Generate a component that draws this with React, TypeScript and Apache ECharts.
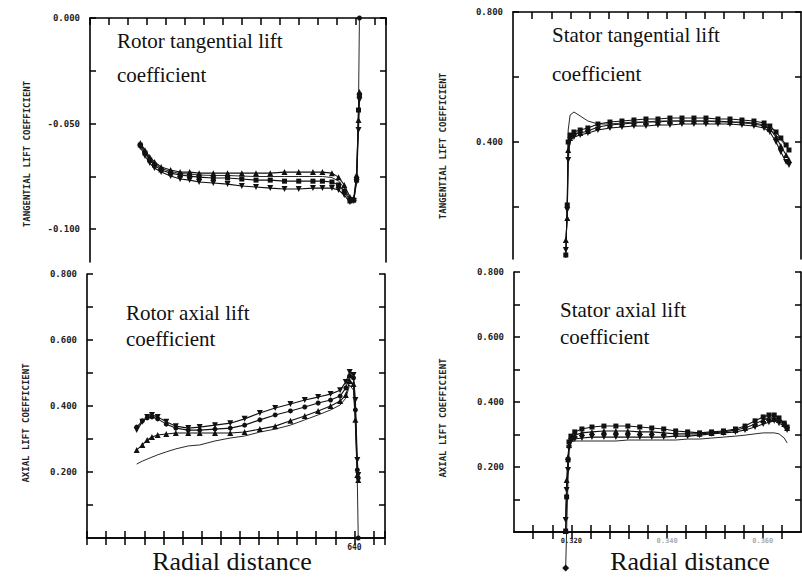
import React, { useEffect, useRef } from "react";
import * as echarts from "echarts";

// ---------- Rotor tangential lift coefficient (top-left) ----------
const rotorTanX = [413, 418, 423, 428, 435, 445, 455, 465, 475, 490, 505, 520, 535, 550, 565, 580, 595, 605, 615, 622, 628, 634, 638, 641, 643, 644];
const rotorTanA = [-0.0592, -0.0626, -0.0659, -0.0682, -0.0706, -0.0720, -0.0730, -0.0730, -0.0735, -0.0735, -0.0735, -0.0735, -0.0735, -0.0735, -0.0730, -0.0730, -0.0730, -0.0730, -0.0735, -0.0754, -0.0791, -0.0848, -0.0853, -0.0744, -0.0483, -0.0351];
const rotorTanB = [-0.0602, -0.0640, -0.0673, -0.0697, -0.0720, -0.0735, -0.0744, -0.0749, -0.0754, -0.0758, -0.0758, -0.0763, -0.0768, -0.0768, -0.0773, -0.0773, -0.0773, -0.0773, -0.0777, -0.0791, -0.0820, -0.0867, -0.0863, -0.0768, -0.0436, -0.0365];
const rotorTanC = [-0.0611, -0.0654, -0.0687, -0.0711, -0.0730, -0.0749, -0.0763, -0.0768, -0.0777, -0.0782, -0.0787, -0.0796, -0.0801, -0.0806, -0.0810, -0.0810, -0.0806, -0.0806, -0.0806, -0.0815, -0.0839, -0.0872, -0.0867, -0.0777, -0.0531, -0.0389];
const rotorTanThin = [-0.0597, -0.0633, -0.0666, -0.0690, -0.0713, -0.0727, -0.0737, -0.0739, -0.0744, -0.0746, -0.0746, -0.0749, -0.0751, -0.0751, -0.0751, -0.0751, -0.0751, -0.0751, -0.0756, -0.0772, -0.0806, -0.0858, -0.0860, -0.0760, -0.0420, 0.0];

// ---------- Stator tangential lift coefficient (top-right) ----------
const statorTanX = [0.3190, 0.3193, 0.3195, 0.3199, 0.3207, 0.3220, 0.3236, 0.3257, 0.3282, 0.3307, 0.3332, 0.3357, 0.3382, 0.3407, 0.3432, 0.3457, 0.3482, 0.3507, 0.3532, 0.3557, 0.3582, 0.3603, 0.3615, 0.3628, 0.3638, 0.3649, 0.3655];
const statorTanA = [0.0523, 0.2062, 0.4000, 0.4215, 0.4308, 0.4369, 0.4431, 0.4554, 0.4615, 0.4646, 0.4677, 0.4708, 0.4708, 0.4738, 0.4738, 0.4738, 0.4738, 0.4708, 0.4708, 0.4677, 0.4646, 0.4585, 0.4492, 0.4308, 0.4123, 0.3908, 0.3754];
const statorTanB = [0.0985, 0.1662, 0.3754, 0.4123, 0.4246, 0.4277, 0.4338, 0.4462, 0.4523, 0.4554, 0.4585, 0.4615, 0.4615, 0.4646, 0.4646, 0.4646, 0.4646, 0.4646, 0.4615, 0.4615, 0.4585, 0.4523, 0.4400, 0.4154, 0.3877, 0.3600, 0.3446];
const statorTanC = [0.0677, 0.1908, 0.3446, 0.4062, 0.4154, 0.4215, 0.4277, 0.4369, 0.4431, 0.4462, 0.4492, 0.4492, 0.4523, 0.4523, 0.4554, 0.4554, 0.4554, 0.4554, 0.4554, 0.4523, 0.4492, 0.4431, 0.4308, 0.4000, 0.3692, 0.3385, 0.3292];
const statorTanThin = [0.0431, 0.2215, 0.4369, 0.4831, 0.4923, 0.4800, 0.4646, 0.4554, 0.4554, 0.4585, 0.4615, 0.4615, 0.4646, 0.4646, 0.4646, 0.4646, 0.4646, 0.4615, 0.4615, 0.4585, 0.4554, 0.4492, 0.4369, 0.4215, 0.4062, 0.3877, 0.3754];

// ---------- Rotor axial lift coefficient (bottom-left) ----------
const rotorAxX = [412, 418, 423, 428, 434, 443, 453, 466, 478, 494, 510, 525, 541, 557, 573, 588, 602, 615, 625, 631, 635, 639, 641, 643, 644];
const rotorAxA = [0.327, 0.352, 0.367, 0.373, 0.367, 0.352, 0.339, 0.333, 0.336, 0.342, 0.348, 0.361, 0.379, 0.394, 0.406, 0.418, 0.427, 0.436, 0.448, 0.473, 0.503, 0.494, 0.418, 0.236, 0.191];
const rotorAxB = [0.336, 0.355, 0.364, 0.367, 0.361, 0.345, 0.333, 0.327, 0.327, 0.330, 0.333, 0.342, 0.358, 0.373, 0.385, 0.397, 0.409, 0.418, 0.430, 0.455, 0.491, 0.485, 0.388, 0.206, 0.182];
const rotorAxC = [0.267, 0.282, 0.297, 0.306, 0.312, 0.315, 0.318, 0.318, 0.318, 0.318, 0.318, 0.321, 0.330, 0.339, 0.355, 0.370, 0.385, 0.400, 0.415, 0.433, 0.476, 0.467, 0.358, 0.191, 0.176];
const rotorAxThin = [0.224, 0.233, 0.239, 0.245, 0.252, 0.261, 0.270, 0.279, 0.282, 0.294, 0.303, 0.309, 0.321, 0.330, 0.342, 0.358, 0.373, 0.388, 0.403, 0.424, 0.464, 0.448, 0.342, 0.176, 0.0];

// ---------- Stator axial lift coefficient (bottom-right) ----------
const statorAxX = [0.3188, 0.3190, 0.3193, 0.3195, 0.3199, 0.3207, 0.3222, 0.3243, 0.3268, 0.3293, 0.3318, 0.3343, 0.3368, 0.3393, 0.3418, 0.3443, 0.3468, 0.3493, 0.3518, 0.3543, 0.3563, 0.3584, 0.3601, 0.3613, 0.3624, 0.3634, 0.3645, 0.3651];
const statorAxA = [0.003, 0.108, 0.222, 0.277, 0.295, 0.308, 0.317, 0.323, 0.326, 0.326, 0.326, 0.323, 0.320, 0.317, 0.311, 0.308, 0.305, 0.308, 0.311, 0.317, 0.326, 0.342, 0.354, 0.360, 0.360, 0.351, 0.335, 0.323];
const statorAxB = [0.003, 0.160, 0.231, 0.268, 0.289, 0.298, 0.305, 0.308, 0.311, 0.311, 0.311, 0.308, 0.308, 0.305, 0.302, 0.302, 0.302, 0.305, 0.308, 0.314, 0.320, 0.332, 0.345, 0.351, 0.351, 0.345, 0.332, 0.320];
const statorAxC = [0.037, 0.129, 0.191, 0.258, 0.280, 0.286, 0.289, 0.292, 0.292, 0.292, 0.292, 0.292, 0.292, 0.292, 0.295, 0.295, 0.298, 0.302, 0.305, 0.308, 0.314, 0.323, 0.332, 0.338, 0.342, 0.335, 0.326, 0.314];
const statorAxThin = [-0.111, 0.003, 0.160, 0.252, 0.277, 0.280, 0.280, 0.280, 0.280, 0.280, 0.283, 0.283, 0.283, 0.283, 0.283, 0.286, 0.286, 0.289, 0.292, 0.295, 0.298, 0.302, 0.305, 0.305, 0.305, 0.302, 0.289, 0.274];

// ---------- Axis ticks / labels ----------
const rotorTanTicks = [0, -0.025, -0.05, -0.075, -0.1];
const rotorTanLabels = [0, -0.05, -0.1];
const statorTanTicks = [0.8, 0.6, 0.4, 0.2];
const statorTanLabels = [0.8, 0.4];
const axialTicks = [0.1, 0.2, 0.3, 0.4, 0.5, 0.6, 0.7, 0.8];
const axialLabels = [0.2, 0.4, 0.6, 0.8];
const rotorXLabels = [640];
const statorXTicks = [0.312, 0.316, 0.32, 0.324, 0.328, 0.332, 0.336, 0.34, 0.344, 0.348, 0.352, 0.356, 0.36, 0.364];
const statorXLabels = [0.32, 0.34, 0.36];

const panelTitles = [
  ["Rotor tangential lift", "coefficient"],
  ["Stator tangential lift", "coefficient"],
  ["Rotor axial lift", "coefficient"],
  ["Stator axial lift", "coefficient"],
];
const yAxisTitles = [
  "TANGENTIAL LIFT COEFFICIENT",
  "TANGENTIAL LIFT COEFFICIENT",
  "AXIAL LIFT COEFFICIENT",
  "AXIAL LIFT COEFFICIENT",
];
const xAxisTitle = "Radial distance";

const SERIF = "Liberation Serif";
const MONO = "DejaVu Sans Mono";
const INK = "#111";

export default function App() {
  const ref = useRef<HTMLDivElement>(null);

  useEffect(() => {
    if (!ref.current) return;
    const chart = echarts.init(ref.current, undefined, { renderer: "svg" });

    const axisLine = { show: true, lineStyle: { color: "#000", width: 1.6 } };
    const tickLabel = {
      fontFamily: MONO,
      fontWeight: "bold" as const,
      fontSize: 9,
      color: "#222",
    };

    const grids = [
      { left: 90, top: 18, width: 296, height: 244 },
      { left: 513, top: 12, width: 288, height: 247 },
      { left: 87, top: 274, width: 298, height: 264 },
      { left: 514, top: 272, width: 287, height: 260 },
    ];

    const rotorX = (grid: number, position: string, labels: boolean) => ({
      type: "value",
      gridIndex: grid,
      position,
      min: 360,
      max: 672,
      interval: 20,
      axisLine,
      axisTick: { show: true, inside: true, length: 7, lineStyle: { color: "#000", width: 1.5 } },
      axisLabel: labels
        ? { show: true, customValues: rotorXLabels, margin: 5, ...tickLabel, fontSize: 8, formatter: (v: number) => String(Math.round(v)) }
        : { show: false },
      splitLine: { show: false },
    });

    const statorX = (grid: number, position: string, labels: boolean) => ({
      type: "value",
      gridIndex: grid,
      position,
      min: 0.308,
      max: 0.368,
      axisLine,
      axisTick: { show: true, inside: true, length: 7, customValues: statorXTicks, lineStyle: { color: "#000", width: 1.5 } },
      axisLabel: labels
        ? {
            show: true,
            customValues: statorXLabels,
            margin: 5,
            ...tickLabel,
            fontSize: 7,
            formatter: (v: number) => (Math.abs(v - 0.32) < 1e-6 ? "{a|" + v.toFixed(3) + "}" : "{b|" + v.toFixed(3) + "}"),
            rich: {
              a: { fontFamily: MONO, fontWeight: "bold", fontSize: 7, color: "#222" },
              b: { fontFamily: MONO, fontWeight: "bold", fontSize: 7, color: "#aaa" },
            },
          }
        : { show: false },
      splitLine: { show: false },
    });

    const yAx = (grid: number, position: string, min: number, max: number, ticks: number[], labels: number[] | null) => ({
      type: "value",
      gridIndex: grid,
      position,
      min,
      max,
      axisLine,
      axisTick: { show: true, inside: true, length: 6, customValues: ticks, lineStyle: { color: "#000", width: 1.5 } },
      axisLabel: labels
        ? { show: true, customValues: labels, margin: 10, ...tickLabel, formatter: (v: number) => v.toFixed(3) }
        : { show: false },
      splitLine: { show: false },
    });

    const xAxis = [
      rotorX(0, "top", false), // 0 TL
      statorX(1, "top", false), // 1 TR
      rotorX(2, "bottom", true), // 2 BL bottom
      rotorX(2, "top", false), // 3 BL top
      statorX(3, "bottom", true), // 4 BR bottom
      statorX(3, "top", false), // 5 BR top
    ];
    const yAxis = [
      yAx(0, "left", -0.1156, 0, rotorTanTicks, rotorTanLabels),
      yAx(0, "right", -0.1156, 0, rotorTanTicks, null),
      yAx(1, "left", 0.04, 0.8, statorTanTicks, statorTanLabels),
      yAx(1, "right", 0.04, 0.8, statorTanTicks, null),
      yAx(2, "left", 0, 0.8, axialTicks, axialLabels),
      yAx(2, "right", 0, 0.8, axialTicks, null),
      yAx(3, "left", 0, 0.8, axialTicks, axialLabels),
      yAx(3, "right", 0, 0.8, axialTicks, null),
    ];

    const pair = (xs: number[], ys: number[]) => xs.map((x, i) => [x, ys[i]]);

    const marker = (xi: number, yi: number, xs: number[], ys: number[], symbol: string, rotate = 0, size = 6) => ({
      type: "line",
      xAxisIndex: xi,
      yAxisIndex: yi,
      data: pair(xs, ys),
      symbol,
      symbolRotate: rotate,
      symbolSize: size,
      showSymbol: true,
      lineStyle: { color: INK, width: 1.1 },
      itemStyle: { color: INK },
      z: 3,
    });

    const thin = (xi: number, yi: number, data: any[]) => ({
      type: "line",
      xAxisIndex: xi,
      yAxisIndex: yi,
      data,
      symbol: "none",
      showSymbol: true,
      clip: false,
      lineStyle: { color: INK, width: 0.9 },
      itemStyle: { color: INK },
      z: 2,
    });

    const tlThin = pair(rotorTanX, rotorTanThin).map((p, i, arr) =>
      i === arr.length - 1 ? { value: p, symbol: "circle", symbolSize: 5 } : p
    );
    const blThin = pair(rotorAxX, rotorAxThin).map((p, i, arr) =>
      i === arr.length - 1 ? { value: p, symbol: "circle", symbolSize: 5 } : p
    );
    const brThin = pair(statorAxX, statorAxThin).map((p, i) =>
      i === 0 ? { value: p, symbol: "diamond", symbolSize: 7 } : p
    );

    const series = [
      marker(0, 0, rotorTanX, rotorTanA, "triangle"),
      marker(0, 0, rotorTanX, rotorTanB, "rect", 0, 5),
      marker(0, 0, rotorTanX, rotorTanC, "triangle", 180),
      thin(0, 0, tlThin),

      marker(1, 2, statorTanX, statorTanA, "rect", 0, 5),
      marker(1, 2, statorTanX, statorTanB, "triangle"),
      marker(1, 2, statorTanX, statorTanC, "triangle", 180),
      thin(1, 2, pair(statorTanX, statorTanThin)),

      marker(2, 4, rotorAxX, rotorAxA, "triangle", 180),
      marker(2, 4, rotorAxX, rotorAxB, "circle", 0, 5),
      marker(2, 4, rotorAxX, rotorAxC, "triangle"),
      thin(2, 4, blThin),

      marker(4, 6, statorAxX, statorAxA, "rect", 0, 5),
      marker(4, 6, statorAxX, statorAxB, "triangle"),
      marker(4, 6, statorAxX, statorAxC, "triangle", 180),
      thin(4, 6, brThin),
    ];

    const titlePos = [
      [117, 41, 75],
      [552, 35, 74],
      [126, 313, 339],
      [560, 310, 337],
    ];
    const titleTexts: any[] = [];
    panelTitles.forEach((lines, i) => {
      lines.forEach((t, j) => {
        titleTexts.push({
          type: "text",
          x: titlePos[i][0],
          y: titlePos[i][1 + j],
          style: { text: t, fontFamily: SERIF, fontSize: 21, fill: INK, align: "left", verticalAlign: "middle" },
        });
      });
    });

    const vPos = [
      [27, 154],
      [443, 146],
      [26, 423],
      [443, 418],
    ];
    const vTexts = yAxisTitles.map((t, i) => ({
      type: "text",
      x: vPos[i][0],
      y: vPos[i][1],
      rotation: Math.PI / 2,
      style: { text: t, fontFamily: MONO, fontWeight: "bold", fontSize: 9, fill: "#222", align: "center", verticalAlign: "middle" },
    }));

    const radial = [
      [232, 561],
      [690, 561],
    ].map(([x, y]) => ({
      type: "text",
      x,
      y,
      style: { text: xAxisTitle, fontFamily: SERIF, fontSize: 26, fill: INK, align: "center", verticalAlign: "middle" },
    }));

    chart.setOption({
      animation: false,
      backgroundColor: "#fff",
      grid: grids,
      xAxis,
      yAxis,
      series,
      graphic: [...titleTexts, ...vTexts, ...radial],
    });

    return () => chart.dispose();
  }, []);

  return <div ref={ref} style={{ position: "fixed", left: 0, top: 0, width: 802, height: 579 }} />;
}
